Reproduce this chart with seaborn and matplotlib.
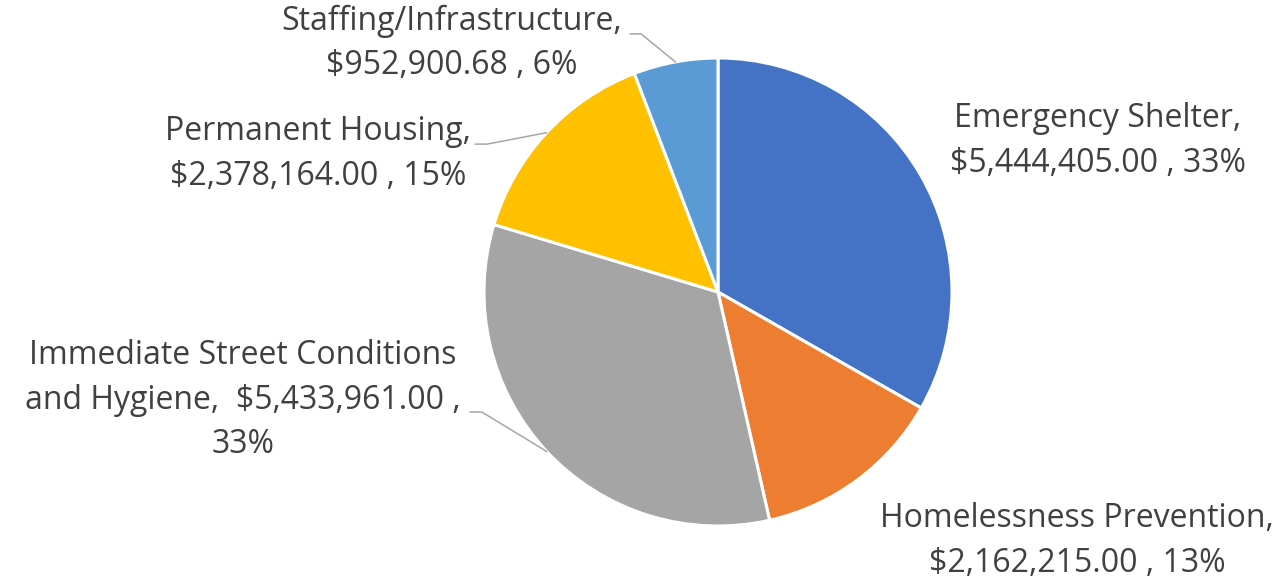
import matplotlib
matplotlib.use("Agg")
import matplotlib.pyplot as plt
import numpy as np
import seaborn as sns

categories = ["Emergency Shelter", "Homelessness Prevention",
              "Immediate Street Conditions and Hygiene",
              "Permanent Housing", "Staffing/Infrastructure"]
amounts = [5444405.00, 2162215.00, 5433961.00, 2378164.00, 952900.68]
label_texts = [
    "Emergency Shelter,\n$5,444,405.00 , 33%",
    "Homelessness Prevention,\n$2,162,215.00 , 13%",
    "Immediate Street Conditions\nand Hygiene,  $5,433,961.00 ,\n33%",
    "Permanent Housing,\n$2,378,164.00 , 15%",
    "Staffing/Infrastructure,\n$952,900.68 , 6%",
]
colors = ["#4472C4", "#ED7D31", "#A5A5A5", "#FFC000", "#5B9BD5"]

# label centres in pie-radius units
label_pos = [(1.624, 0.645), (1.534, -1.064), (-2.03, -0.462),
             (-1.709, 0.590), (-1.137, 1.064)]
# leader lines: (elbow, end) for labels that have one
leaders = {2: ((-1.009, -0.513), (-1.060, -0.513)),
           3: ((-0.987, 0.632), (-1.038, 0.632)),
           4: ((-0.329, 1.103), (-0.376, 1.103))}

sns.set_theme(style="white")
plt.rcParams["font.family"] = ["Open Sans", "DejaVu Sans"]

fig = plt.figure(figsize=(12.79, 5.82), dpi=100)
ax = fig.add_axes([0, 0, 1, 1])
wedges, _ = ax.pie(amounts, colors=colors, startangle=90, counterclock=False,
                   radius=1.0,
                   wedgeprops=dict(edgecolor="white", linewidth=2.2))

total = sum(amounts)
cum = np.cumsum([0] + amounts[:-1])
for i, txt in enumerate(label_texts):
    x, y = label_pos[i]
    ax.text(x, y, txt, ha="center", va="center", fontsize=23,
            color="#404040", linespacing=1.45)
    if i in leaders:
        mid = np.deg2rad(90 - (cum[i] + amounts[i] / 2) / total * 360)
        tip = (np.cos(mid), np.sin(mid))
        (ex, ey), (tx, ty) = leaders[i]
        ax.plot([tip[0], ex, tx], [tip[1], ey, ty], color="#A6A6A6", lw=1.1)

ax.set_xlim(-718 / 234, (1279 - 718) / 234)
ax.set_ylim(-(582 - 292) / 234, 292 / 234)
ax.axis("off")
fig.savefig("out.png", dpi=100)
